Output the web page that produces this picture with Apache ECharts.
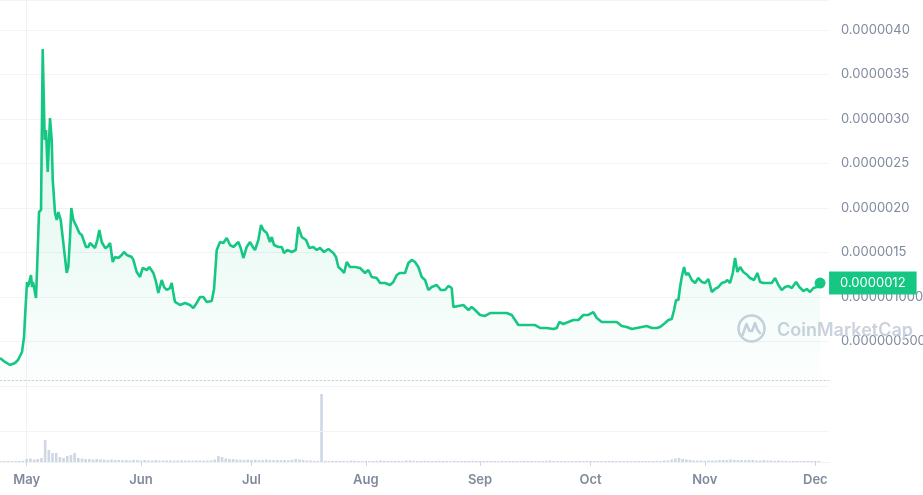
<!DOCTYPE html>
<html><head><meta charset="utf-8">
<script src="https://cdn.jsdelivr.net/npm/echarts@6/dist/echarts.min.js"></script>
<style>html,body{margin:0;padding:0;background:#fff}#c{width:923px;height:495px}</style>
</head><body><div id="c"></div><script>
// x values are days counted from 1 May
const monthLabels = ['May','Jun','Jul','Aug','Sep','Oct','Nov','Dec'];
const monthStartDays = [0,31,61,92,123,153,184,214];
// price axis tick labels, indexed by multiples of 0.0000005
const priceTickLabels = ['', '0.000000500', '0.000001000', '0.0000015', '0.0000020', '0.0000025', '0.0000030', '0.0000035', '0.0000040'];
const priceTickStep = 0.5e-6;

// [day, price]
const pricePoints = [
[-7.25,0.315e-6],[-5.89,0.270e-6],[-4.53,0.236e-6],[-3.18,0.258e-6],[-2.36,0.292e-6],[-1.28,0.382e-6],[-0.73,0.551e-6],[-0.46,0.775e-6],[-0.19,0.775e-6],[0.08,1.169e-6],
[0.35,1.112e-6],[1.17,1.247e-6],[1.44,1.112e-6],[1.71,1.169e-6],[2.52,0.989e-6],[2.80,1.303e-6],[3.34,1.955e-6],[3.88,1.978e-6],[4.34,3.787e-6],[4.69,3.787e-6],
[4.88,2.764e-6],[5.24,2.876e-6],[5.70,2.404e-6],[6.32,3.011e-6],[6.78,2.764e-6],[7.06,2.315e-6],[7.68,1.944e-6],[8.14,1.865e-6],[8.58,1.955e-6],[9.23,1.865e-6],
[9.77,1.843e-6],[10.85,1.270e-6],[11.29,1.337e-6],[11.75,1.674e-6],[12.10,2.000e-6],[12.65,1.865e-6],[13.57,1.787e-6],[14.27,1.719e-6],[14.93,1.697e-6],[15.36,1.719e-6],
[16.09,1.562e-6],[16.72,1.562e-6],[17.18,1.607e-6],[18.53,1.551e-6],[19.16,1.640e-6],[19.70,1.753e-6],[20.35,1.618e-6],[21.25,1.551e-6],[21.87,1.562e-6],[22.61,1.607e-6],
[23.34,1.393e-6],[23.96,1.449e-6],[24.86,1.438e-6],[25.78,1.472e-6],[26.40,1.506e-6],[27.14,1.472e-6],[28.49,1.449e-6],[28.93,1.416e-6],[29.85,1.281e-6],[30.75,1.225e-6],
[31.48,1.326e-6],[32.56,1.303e-6],[33.27,1.337e-6],[34.36,1.270e-6],[35.09,1.169e-6],[35.71,1.045e-6],[36.17,1.034e-6],[36.64,1.191e-6],[37.26,1.112e-6],[37.99,1.079e-6],
[38.89,1.101e-6],[39.35,1.157e-6],[39.78,1.045e-6],[40.24,0.944e-6],[41.60,0.910e-6],[42.96,0.933e-6],[44.31,0.910e-6],[45.21,0.876e-6],[46.13,0.933e-6],[47.03,1.000e-6],
[47.92,1.000e-6],[48.85,0.944e-6],[50.20,0.955e-6],[50.83,1.090e-6],[51.56,1.528e-6],[52.46,1.618e-6],[53.35,1.607e-6],[54.27,1.663e-6],[55.17,1.584e-6],[56.07,1.562e-6],
[57.42,1.618e-6],[58.07,1.551e-6],[58.78,1.438e-6],[59.70,1.562e-6],[60.60,1.618e-6],[61.33,1.562e-6],[61.95,1.528e-6],[62.85,1.640e-6],[63.58,1.809e-6],[64.21,1.753e-6],
[65.13,1.719e-6],[66.02,1.618e-6],[66.49,1.674e-6],[67.11,1.584e-6],[68.28,1.562e-6],[69.20,1.562e-6],[69.82,1.494e-6],[70.72,1.528e-6],[71.91,1.506e-6],[73.00,1.528e-6],
[73.70,1.787e-6],[74.63,1.674e-6],[75.79,1.640e-6],[76.69,1.551e-6],[77.77,1.562e-6],[78.70,1.528e-6],[79.59,1.551e-6],[80.68,1.506e-6],[81.85,1.539e-6],[83.20,1.494e-6],
[83.93,1.449e-6],[84.56,1.337e-6],[85.48,1.303e-6],[86.11,1.270e-6],[86.84,1.393e-6],[87.73,1.337e-6],[89.09,1.337e-6],[90.45,1.326e-6],[91.81,1.270e-6],[92.70,1.303e-6],
[93.62,1.225e-6],[94.98,1.213e-6],[95.88,1.157e-6],[97.23,1.157e-6],[98.59,1.135e-6],[99.48,1.169e-6],[100.41,1.247e-6],[101.30,1.270e-6],[102.66,1.270e-6],[103.56,1.382e-6],
[104.48,1.416e-6],[105.37,1.393e-6],[106.27,1.337e-6],[107.19,1.225e-6],[108.09,1.191e-6],[108.98,1.079e-6],[109.91,1.112e-6],[111.26,1.135e-6],[112.35,1.079e-6],[113.51,1.079e-6],
[114.41,1.124e-6],[115.33,1.101e-6],[115.77,0.888e-6],[117.12,0.899e-6],[118.48,0.910e-6],[119.84,0.854e-6],[120.76,0.888e-6],[121.66,0.854e-6],[123.01,0.798e-6],[124.37,0.787e-6],
[125.73,0.820e-6],[127.08,0.820e-6],[128.44,0.820e-6],[130.26,0.820e-6],[131.61,0.798e-6],[132.51,0.742e-6],[133.41,0.685e-6],[134.76,0.685e-6],[136.59,0.685e-6],[137.94,0.685e-6],
[139.30,0.652e-6],[141.11,0.652e-6],[142.90,0.640e-6],[143.83,0.652e-6],[144.53,0.719e-6],[145.62,0.697e-6],[146.97,0.719e-6],[148.33,0.742e-6],[149.69,0.742e-6],[151.04,0.798e-6],
[152.40,0.798e-6],[153.76,0.831e-6],[154.68,0.764e-6],[156.04,0.719e-6],[157.39,0.719e-6],[158.75,0.719e-6],[160.11,0.719e-6],[161.47,0.674e-6],[162.82,0.663e-6],[164.18,0.640e-6],
[165.54,0.652e-6],[166.89,0.663e-6],[168.25,0.674e-6],[169.61,0.652e-6],[170.96,0.652e-6],[171.86,0.663e-6],[173.22,0.708e-6],[174.11,0.742e-6],[175.03,0.753e-6],[175.66,0.854e-6],
[176.20,0.966e-6],[176.83,0.966e-6],[177.29,1.112e-6],[177.75,1.225e-6],[178.37,1.337e-6],[178.91,1.247e-6],[179.54,1.270e-6],[180.46,1.191e-6],[181.36,1.157e-6],[182.25,1.213e-6],
[183.18,1.169e-6],[184.07,1.157e-6],[184.97,1.202e-6],[185.89,1.056e-6],[186.78,1.090e-6],[187.68,1.112e-6],[188.60,1.157e-6],[189.50,1.169e-6],[190.12,1.191e-6],[190.85,1.157e-6],
[191.59,1.270e-6],[192.21,1.438e-6],[192.84,1.281e-6],[193.57,1.337e-6],[194.46,1.281e-6],[195.55,1.247e-6],[196.28,1.213e-6],[197.37,1.191e-6],[198.26,1.270e-6],[198.99,1.169e-6],
[199.89,1.157e-6],[201.25,1.157e-6],[202.17,1.157e-6],[203.07,1.213e-6],[203.96,1.135e-6],[204.88,1.079e-6],[205.78,1.112e-6],[206.67,1.124e-6],[207.60,1.101e-6],[208.77,1.169e-6],
[209.66,1.112e-6],[210.75,1.067e-6],[211.67,1.090e-6],[212.57,1.056e-6],[213.46,1.101e-6],[214.38,1.112e-6],[215.28,1.157e-6]
];

// daily volume (relative units), first bar on day -7
const volumeStartDay = -7;
const volumeValues = [
0.8,0.8,0.9,0.8,0.9,1.0,1.2,
3,3.5,2.5,3,4,22,12,9,9,5,
4,6,7,9,4,3.5,3,3,2.5,3,
2.5,2.5,2,2.5,2,2,1.8,2,1.5,2,
1.8,1.5,2,1.6,1.5,1.8,1.4,1.5,1.6,1.5,
1.4,1.5,1.6,1.5,1.5,1.4,1.6,1.5,1.4,1.5,
1.6,2.5,6,5,3.5,3,3,2.5,2.2,2,
2.5,2,2.2,1.8,2,2.5,2,1.8,2,1.8,
2,1.8,2.2,3,2.5,2,1.5,1.5,1.2,1.2,
68,1.2,1,1.2,1,1,1.2,1,1.5,1.2,
1,1,1.2,1,1,1.2,1.5,1.2,1,1,
1.2,1,1,1.5,1.5,1.2,1,1,1.2,1,
1,1,1.2,1,1,1,1.2,1,1,1,
1,1.2,1,1,1,1,1,1,1,1.2,
1,1,1,1,1,1.2,1,1,1,1,
1,1.2,1.5,1,1,1,1,1,1,1,
1,1,1,1,1,1,1,1,1,1,
1,1,1,1,1,1,1,1,1,1,
1,1.2,1,1.5,1.5,2.5,3.5,4,3,2.5,
2,1.5,1.5,1.5,1.2,1.5,1.5,1.5,2,2,
2,2.5,2,2,2,1.8,2,2,1.5,1.5,
2,1.5,1.5,1.2,1.5,1.2,1.2,1,1,1,
1,1,1,1,1,1
];
const volumeGuide = 31;

const xMin = -7.25, xMax = 217.7;
const green = '#16c784';
const labelColor = '#808a9d';
const gridColor = '#f1f3f6';
const font = 'Inter';

const volumeData = volumeValues.map((v, i) => [volumeStartDay + i, v]);
const lastPoint = pricePoints[pricePoints.length - 1];

const chart = echarts.init(document.getElementById('c'), null, {renderer: 'canvas'});
chart.setOption({
  animation: false,
  backgroundColor: '#ffffff',
  textStyle: {fontFamily: font},
  grid: [
    {left: 0, right: 94, top: 0, bottom: 109, containLabel: false, outerBoundsMode: 'none'},
    {left: 0, right: 94, top: 380, bottom: 33, containLabel: false, outerBoundsMode: 'none'}
  ],
  xAxis: [
    {gridIndex: 0, type: 'value', min: xMin, max: xMax, show: false},
    {gridIndex: 1, type: 'value', min: xMin, max: xMax,
      axisLine: {show: true, lineStyle: {color: '#eff2f5'}},
      axisTick: {show: true, customValues: monthStartDays, length: 4, lineStyle: {color: '#cfd6e4'}},
      axisLabel: {show: true, customValues: monthStartDays, margin: 12,
        formatter: v => monthLabels[monthStartDays.indexOf(Math.round(v))] || '',
        color: labelColor, fontSize: 13, fontWeight: 600, fontFamily: font},
      splitLine: {show: false}},
    {gridIndex: 1, type: 'value', min: xMin, max: xMax, position: 'top',
      axisLine: {show: true, lineStyle: {color: '#c9ced9', type: [1.5, 2.5], width: 1}},
      axisTick: {show: false}, axisLabel: {show: false}, splitLine: {show: false}}
  ],
  yAxis: [
    {gridIndex: 0, type: 'value', position: 'right', min: 0, max: 4.337e-6, interval: priceTickStep,
      axisLine: {show: true, lineStyle: {color: '#eff2f5'}},
      axisTick: {show: false},
      axisLabel: {margin: 12, color: labelColor, fontSize: 13, fontFamily: font,
        formatter: v => priceTickLabels[Math.round(v / priceTickStep)] || ''},
      splitLine: {show: true, lineStyle: {color: gridColor}}},
    {gridIndex: 1, type: 'value', position: 'right', min: 0, max: 82, interval: 82,
      axisLine: {show: true, lineStyle: {color: '#eff2f5'}},
      axisTick: {show: false}, axisLabel: {show: false}, splitLine: {show: false}}
  ],
  graphic: [
    {type: 'circle', shape: {cx: 751.5, cy: 328.5, r: 13}, style: {fill: 'none', stroke: '#cbd1dd', lineWidth: 2.6}, z: 1, silent: true},
    {type: 'polyline', shape: {points: [[742.5, 335], [746.5, 324], [749.5, 331], [752, 331], [755, 323], [757.5, 330], [760, 333]]},
      style: {fill: 'none', stroke: '#cbd1dd', lineWidth: 2.6, lineJoin: 'round', lineCap: 'round'}, z: 1, silent: true},
    {type: 'text', x: 777, y: 331, style: {text: 'CoinMarketCap', fill: '#cbd1dd', font: '600 18px Inter', textVerticalAlign: 'middle'}, z: 1, silent: true}
  ],
  series: [
    {type: 'line', name: 'Price', xAxisIndex: 0, yAxisIndex: 0, data: pricePoints,
      showSymbol: false, symbol: 'none', smooth: false, z: 3,
      lineStyle: {color: green, width: 2.6},
      itemStyle: {color: green},
      areaStyle: {color: new echarts.graphic.LinearGradient(0, 0, 0, 1, [
        {offset: 0, color: 'rgba(22,199,132,0.25)'},
        {offset: 1, color: 'rgba(22,199,132,0.01)'}])},
      endLabel: {show: true, distance: 9, formatter: p => p.value[1].toFixed(7),
        backgroundColor: green, color: '#ffffff', fontSize: 13, fontFamily: font, padding: [5, 11, 5, 11]}},
    {type: 'scatter', xAxisIndex: 0, yAxisIndex: 0, data: [lastPoint], symbolSize: 11, z: 4,
      itemStyle: {color: green, opacity: 1}, silent: true},
    {type: 'bar', name: 'Volume', xAxisIndex: 1, yAxisIndex: 1, data: volumeData, barWidth: 2.6,
      itemStyle: {color: '#cfd6e4'}, silent: true,
      markLine: {silent: true, symbol: 'none', label: {show: false},
        lineStyle: {color: gridColor, type: 'solid', width: 1}, data: [{yAxis: volumeGuide}]}}
  ]
});
</script></body></html>
